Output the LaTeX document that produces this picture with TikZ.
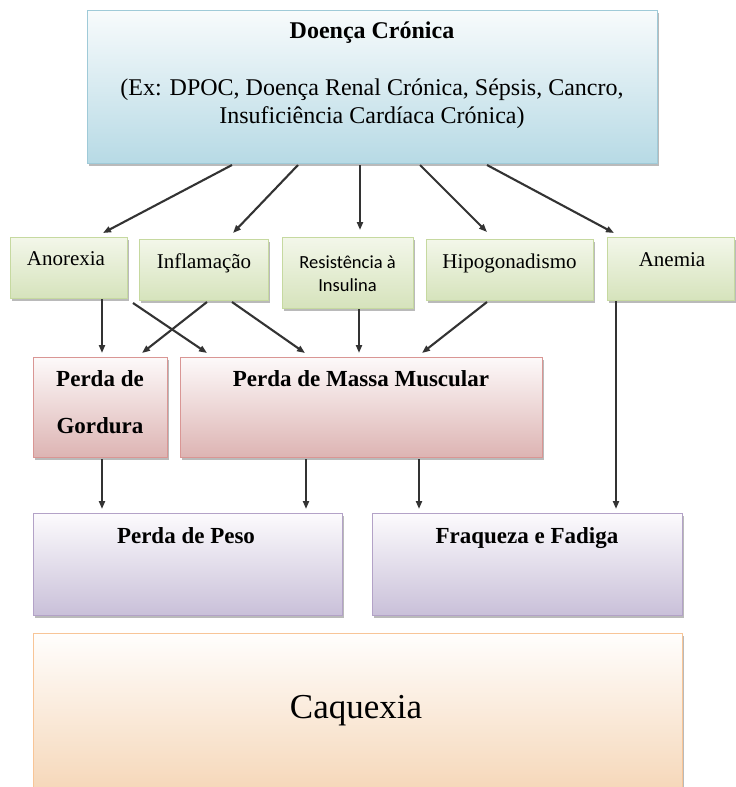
\documentclass[tikz,border=0pt]{standalone}
\usepackage{fontspec}
\setmainfont{Liberation Serif}
\newfontfamily\carlitofont{Carlito}
\usetikzlibrary{shadows,calc,arrows.meta}
\definecolor{blueT}{HTML}{F8FBFC}
\definecolor{blueBot}{HTML}{B7DAE5}
\definecolor{blueLine}{HTML}{9FCAD8}
\definecolor{greenT}{HTML}{F3F7EA}
\definecolor{greenBot}{HTML}{D6E3BC}
\definecolor{greenLine}{HTML}{C6D9A0}
\definecolor{pinkT}{HTML}{FDFAFA}
\definecolor{pinkBot}{HTML}{DDB4B3}
\definecolor{pinkLine}{HTML}{D99694}
\definecolor{purpT}{HTML}{FCFBFD}
\definecolor{purpBot}{HTML}{C9C0D9}
\definecolor{purpLine}{HTML}{B3A2C7}
\definecolor{orT}{HTML}{FFFEFD}
\definecolor{orBot}{HTML}{F5D5B5}
\definecolor{orLine}{HTML}{F8C597}
\definecolor{arrc}{HTML}{333333}
\newcommand\mkbox[6]{\node[#6, minimum width={(#4-#2)*1pt}, minimum height={(#5-#3)*1pt}] (#1) at (#2,#3) {};}
\begin{document}
\begin{tikzpicture}[x=1pt,y=-1pt,
  box/.style={draw, line width=0.8pt, shading=axis, anchor=north west, inner sep=0pt, outer sep=0pt,
    drop shadow={shadow xshift=2pt,shadow yshift=-2.5pt,fill=black!60,opacity=0.45}},
  bluebox/.style={box, draw=blueLine, top color=blueT, bottom color=blueBot},
  greenbox/.style={box, draw=greenLine, top color=greenT, bottom color=greenBot},
  pinkbox/.style={box, draw=pinkLine, top color=pinkT, bottom color=pinkBot},
  purpbox/.style={box, draw=purpLine, top color=purpT, bottom color=purpBot},
  orbox/.style={box, draw=orLine, top color=orT, bottom color=orBot, drop shadow={opacity=0}},
  arr/.style={draw=arrc, line width=2.1pt, -{Triangle[length=8pt,width=6pt]}},
  lbl/.style={inner sep=0pt, anchor=base, text=black},
  big/.style={lbl, font=\fontsize{24}{28}\selectfont},
  bigb/.style={lbl, font=\bfseries\fontsize{24}{28}\selectfont},
  mid/.style={lbl, font=\fontsize{21}{25}\selectfont},
  sans/.style={lbl, font=\carlitofont\fontsize{18.5}{22}\selectfont},
  midb/.style={lbl, font=\bfseries\fontsize{23}{27}\selectfont},
  huge/.style={lbl, font=\fontsize{35}{40}\selectfont},
]
\clip (0,0) rectangle (736,787);
\fill[white] (0,0) rectangle (736,787);
% boxes
\mkbox{dc}{87}{10}{657}{163}{bluebox}
\mkbox{an}{10}{237}{127}{298}{greenbox}
\mkbox{inf}{139}{239}{268}{300}{greenbox}
\mkbox{rs}{282}{237}{413}{308}{greenbox}
\mkbox{hg}{426}{239}{593}{300}{greenbox}
\mkbox{am}{607}{237}{734}{300}{greenbox}
\mkbox{pg}{33}{357}{167}{457}{pinkbox}
\mkbox{ms}{180}{357}{542}{457}{pinkbox}
\mkbox{pp}{33}{513}{342}{615}{purpbox}
\mkbox{ff}{372}{513}{682}{615}{purpbox}
\mkbox{cq}{33}{633}{682}{800}{orbox}
% texts
\node[bigb] (tdc1) at (372,38) {Doença Crónica};
\node[big] (tdc2) at (372,95) {(Ex: DPOC, Doença Renal Crónica, Sépsis, Cancro,};
\node[big] (tdc3) at (372,123) {Insuficiência Cardíaca Crónica)};
\node[mid] (tan) at (66,265) {Anorexia};
\node[mid] (tinf) at (204,268) {Inflamação};
\node[sans] (trs1) at (347.5,268) {Resistência à};
\node[sans] (trs2) at (347.5,291) {Insulina};
\node[mid] (thg) at (509.5,268) {Hipogonadismo};
\node[mid] (tam) at (672,266) {Anemia};
\node[midb] (tpg1) at (100,386) {Perda de};
\node[midb] (tpg2) at (100,433) {Gordura};
\node[midb] (tms) at (361,386) {Perda de Massa Muscular};
\node[midb] (tpp) at (186,543) {Perda de Peso};
\node[midb] (tff) at (527,543) {Fraqueza e Fadiga};
\node[huge] (tcq) at (356,718) {Caquexia};
% arrows top
\draw[arr] ($(dc.south -| 232,0)+(0,2)$) -- ($(an.north -| 103,0)+(0,-4)$);
\draw[arr] ($(dc.south -| 298,0)+(0,2)$) -- ($(inf.north -| 233,0)+(0,-6)$);
\draw[arr] ($(dc.south -| 360,0)+(0,2)$) -- ($(rs.north -| 360,0)+(0,-7)$);
\draw[arr] ($(dc.south -| 420,0)+(0,2)$) -- ($(hg.north -| 487,0)+(0,-7)$);
\draw[arr] ($(dc.south -| 487,0)+(0,2)$) -- ($(am.north -| 614,0)+(0,-4)$);
% arrows middle
\draw[arr] ($(an.south -| 102,0)+(0,1)$) -- ($(pg.north -| 102,0)+(0,-4)$);
\draw[arr] ($(an.south -| 133,0)+(0,5)$) -- ($(ms.north -| 207,0)+(0,-4)$);
\draw[arr] ($(inf.south -| 207,0)+(0,2)$) -- ($(pg.north -| 142,0)+(0,-4)$);
\draw[arr] ($(inf.south -| 232,0)+(0,2)$) -- ($(ms.north -| 305,0)+(0,-4)$);
\draw[arr] ($(rs.south -| 359,0)+(0,1)$) -- ($(ms.north -| 359,0)+(0,-4)$);
\draw[arr] ($(hg.south -| 487,0)+(0,2)$) -- ($(ms.north -| 422,0)+(0,-4)$);
\draw[arr] ($(am.south -| 616,0)+(0,1)$) -- ($(ff.north -| 616,0)+(0,-4)$);
% arrows bottom
\draw[arr] ($(pg.south -| 102,0)+(0,2)$) -- ($(pp.north -| 102,0)+(0,-4)$);
\draw[arr] ($(ms.south -| 306,0)+(0,2)$) -- ($(pp.north -| 306,0)+(0,-4)$);
\draw[arr] ($(ms.south -| 419,0)+(0,2)$) -- ($(ff.north -| 419,0)+(0,-4)$);
\end{tikzpicture}
\end{document}
